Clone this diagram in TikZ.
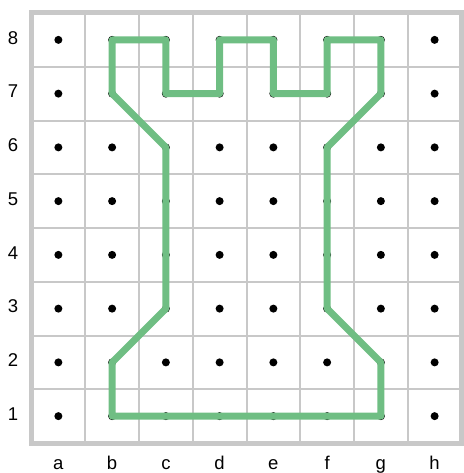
\documentclass[tikz,border=0pt]{standalone}
\usepackage{fontspec}
\setmainfont{Liberation Sans}
\usepackage{xcolor}
\usetikzlibrary{positioning}

\definecolor{gridgray}{RGB}{200,200,200}
\definecolor{rookgreen}{RGB}{111,190,131}

\begin{document}
\begin{tikzpicture}[
    x=53.75pt, y=53.75pt,
    font=\fontsize{18.5}{22}\selectfont,
    gridline/.style={draw=gridgray, line width=2pt},
    border/.style={draw=gridgray, line width=5pt},
    dot/.style={fill=black},
    rook/.style={draw=rookgreen, line width=7pt, line join=round},
    lbl/.style={inner sep=0pt}
]
\useasboundingbox (-0.586,-0.558) rectangle (8.028,8.242);

% grid
\foreach \i in {1,...,7} {
    \draw[gridline] (\i,0) -- (\i,8);
    \draw[gridline] (0,\i) -- (8,\i);
}
\draw[border] (0,0) rectangle (8,8);

% dots
\foreach \c in {1,...,8}
    \foreach \r in {1,...,8}
        \fill[dot] (\c-0.5,\r-0.5) circle (4pt);

% rook outline
\draw[rook] (1.5,7.5) -- (2.5,7.5) -- (2.5,6.5) -- (3.5,6.5) -- (3.5,7.5)
    -- (4.5,7.5) -- (4.5,6.5) -- (5.5,6.5) -- (5.5,7.5) -- (6.5,7.5)
    -- (6.5,6.5) -- (5.5,5.5) -- (5.5,2.5) -- (6.5,1.5) -- (6.5,0.5)
    -- (1.5,0.5) -- (1.5,1.5) -- (2.5,2.5) -- (2.5,5.5) -- (1.5,6.5) -- cycle;

% labels
\foreach \r in {1,...,8}
    \node[lbl] (row\r) at (-0.344,\r-0.46) {\r};
\foreach \l [count=\c] in {a,b,c,d,e,f,g,h}
    \node[lbl, anchor=base] (col\l) at (\c-0.5,-0.502) {\l};

\end{tikzpicture}
\end{document}
